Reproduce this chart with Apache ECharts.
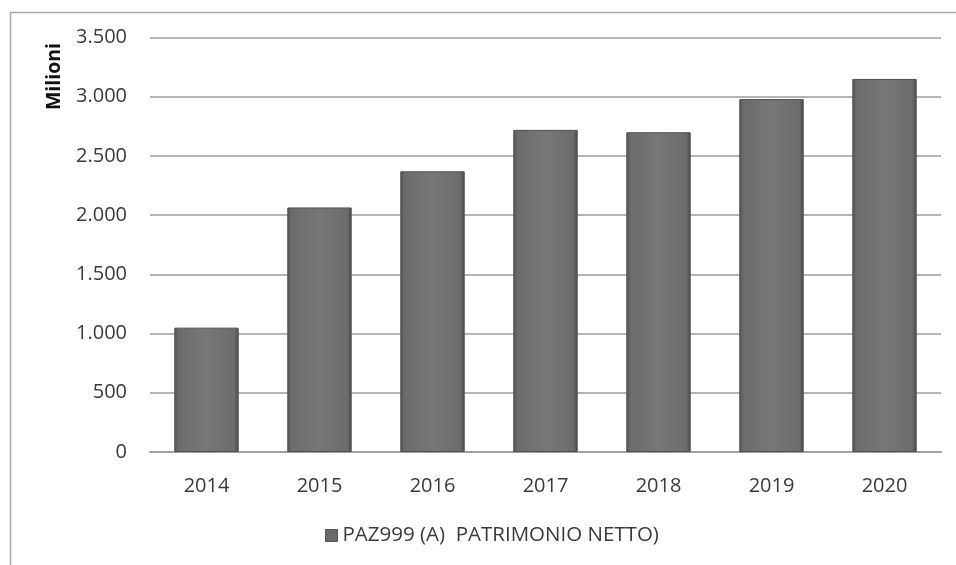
<!DOCTYPE html>
<html>
<head>
<meta charset="utf-8">
<script src="https://cdn.jsdelivr.net/npm/echarts@6/dist/echarts.min.js"></script>
<style>
html,body{margin:0;padding:0;background:#fff;}
#c{width:956px;height:565px;}
</style>
</head>
<body>
<div id="c"></div>
<script>
var categories = ['2014','2015','2016','2017','2018','2019','2020'];
var values = [1050, 2065, 2370, 2720, 2700, 2980, 3150];
var seriesName = 'PAZ999 (A)  PATRIMONIO NETTO)';
var yTicks = [0, 500, 1000, 1500, 2000, 2500, 3000, 3500];
var yAxisTitle = 'Milioni';

var chart = echarts.init(document.getElementById('c'));
var font = '"Open Sans", "Liberation Sans", sans-serif';
function fmt(v){ return String(v).replace(/\B(?=(\d{3})+(?!\d))/g, '.'); }

chart.setOption({
  animation: false,
  textStyle: {fontFamily: font},
  graphic: [
    {type:'rect', left:8, top:10, shape:{width:1000, height:600}, style:{fill:'none', stroke:'#a8a8a8', lineWidth:1.5}, silent:true, z:-1},
    {type:'text', left:44, top:43, rotation:Math.PI/2, style:{text:yAxisTitle, font:'bold 19.5px ' + font, fill:'#111'}}
  ],
  legend: {
    bottom: 14,
    left: 320,
    itemWidth: 12, itemHeight: 12,
    icon: 'rect',
    itemGap: 6,
    itemStyle: {color:'#6a6a6a', borderColor:'#555', borderWidth:1},
    textStyle: {fontSize: 20.5, color:'#3a3a3a', fontFamily: font},
    data: [seriesName]
  },
  grid: {left:150, right:15, top:37.5, bottom:113, containLabel:false},
  xAxis: {
    type:'category',
    data: categories,
    axisLine: {lineStyle:{color:'#a0a0a0', width:2}},
    axisTick: {show:false},
    axisLabel: {fontSize:20, color:'#3a3a3a', margin:24}
  },
  yAxis: {
    type:'value',
    min: yTicks[0], max: yTicks[yTicks.length-1], interval: 500,
    axisLine:{show:false}, axisTick:{show:false},
    splitLine:{lineStyle:{color:'#b5b5b5', width:2}},
    axisLabel:{fontSize:20, color:'#3a3a3a', margin:23, formatter: fmt}
  },
  series: [{
    name: seriesName,
    type: 'bar',
    data: values,
    barWidth: '57%',
    itemStyle: {
      color: new echarts.graphic.LinearGradient(0,0,1,0,[
        {offset:0, color:'#555555'},
        {offset:0.07, color:'#6c6c6c'},
        {offset:0.5, color:'#777777'},
        {offset:0.93, color:'#6c6c6c'},
        {offset:1, color:'#4a4a4a'}
      ]),
      borderColor:'#505050', borderWidth:1
    }
  }]
});
</script>
</body>
</html>
